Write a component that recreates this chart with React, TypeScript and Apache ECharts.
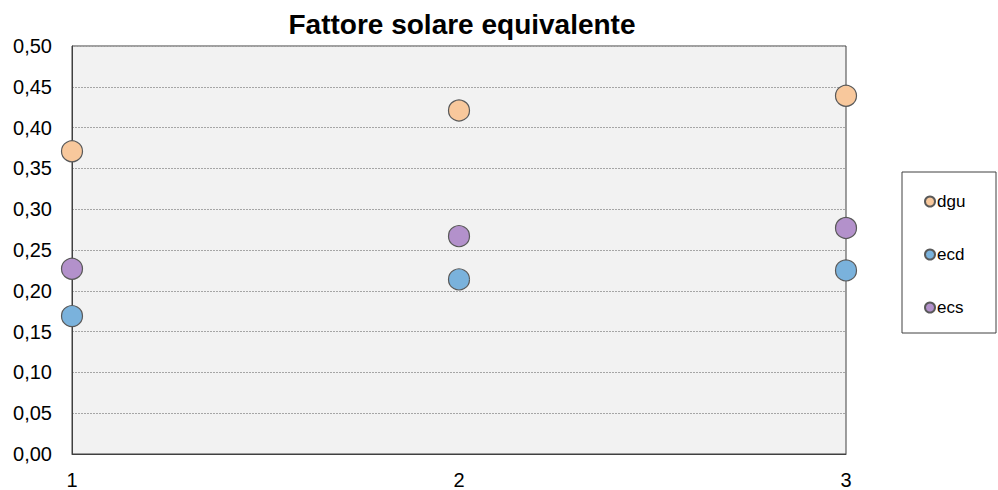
import React, { useEffect, useRef } from "react";
import * as echarts from "echarts";

const xCategories = [1, 2, 3];
const dguValues = [0.371, 0.421, 0.439];
const ecdValues = [0.169, 0.214, 0.225];
const ecsValues = [0.227, 0.267, 0.277];
const seriesNames = ["dgu", "ecd", "ecs"];
const seriesColors = ["#F8C89C", "#7AB2DC", "#B391CB"];

export default function App() {
  const ref = useRef<HTMLDivElement>(null);
  useEffect(() => {
    if (!ref.current) return;
    const chart = echarts.init(ref.current, undefined, { renderer: "svg" });
    const allValues = [dguValues, ecdValues, ecsValues];
    chart.setOption({
      animation: false,
      backgroundColor: "#FFFFFF",
      title: {
        text: "Fattore solare equivalente",
        left: 457,
        textAlign: "center",
        top: 5,
        textStyle: { fontFamily: "Liberation Sans, Arial", fontSize: 28, fontWeight: "bold", color: "#000" },
      },
      grid: {
        left: 72,
        right: 152,
        top: 46,
        bottom: 36,
        show: true,
        backgroundColor: "#F2F2F2",
        borderColor: "#404040",
        borderWidth: 1,
      },
      legend: {
        orient: "vertical",
        left: 919,
        top: 188,
        itemWidth: 10,
        itemHeight: 10,
        itemGap: 36,
        icon: "circle",
        data: seriesNames,
        textStyle: { fontFamily: "Liberation Sans, Arial", fontSize: 17, color: "#000", padding: [0, 0, 0, -3] },
      },
      graphic: [
        {
          type: "rect",
          shape: { x: 902, y: 172, width: 94, height: 161 },
          style: { fill: "#FFFFFF", stroke: "#404040", lineWidth: 1 },
          z: -1,
        },
      ],
      xAxis: {
        type: "value",
        min: 1,
        max: 3,
        interval: 1,
        axisLine: { show: true, onZero: false, lineStyle: { color: "#404040", width: 1 } },
        axisTick: { show: false },
        splitLine: { show: false },
        axisLabel: { fontFamily: "Liberation Sans, Arial", fontSize: 20, color: "#000", margin: 16 },
      },
      yAxis: {
        type: "value",
        min: 0,
        max: 0.5,
        interval: 0.05,
        axisLine: { show: true, lineStyle: { color: "#404040", width: 1 } },
        axisTick: { show: false },
        splitLine: { show: true, lineStyle: { color: "#A6A6A6", type: [2, 1], width: 1 } },
        axisLabel: {
          fontFamily: "Liberation Sans, Arial",
          fontSize: 20,
          color: "#000",
          margin: 20,
          formatter: (v: number) => v.toFixed(2).replace(".", ","),
        },
      },
      series: seriesNames.map((name, i) => ({
        name,
        type: "scatter",
        symbol: "circle",
        symbolSize: 21,
        data: xCategories.map((x, j) => [x, allValues[i][j]]),
        itemStyle: { color: seriesColors[i], borderColor: "#595959", borderWidth: 1.2, opacity: 1 },
      })),
    });
    return () => chart.dispose();
  }, []);
  return <div ref={ref} style={{ width: 998, height: 490, position: "absolute", left: 0, top: 0 }} />;
}
